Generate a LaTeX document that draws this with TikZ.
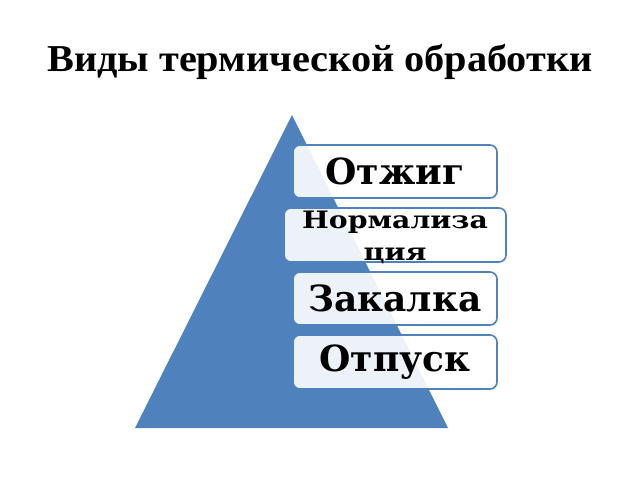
\documentclass[tikz,border=0pt]{standalone}
\usepackage{fontspec}
\setmainfont{DejaVu Serif}
\newfontfamily\titlefont{Liberation Serif}[FakeStretch=1.06]
\newfontfamily\widefont{DejaVu Serif}[FakeStretch=1.18]
\usepackage{xcolor}
\definecolor{pyrblue}{HTML}{4F81BD}

\tikzset{
    stagebox/.style={draw=pyrblue, line width=1.6pt, fill=white, fill opacity=0.9, text opacity=1, rounded corners=7pt, minimum width=204pt, minimum height=53pt, font=\fontsize{36}{40}\selectfont\bfseries}
}

\begin{document}
\begin{tikzpicture}[x=1pt, y=-1pt, node distance=63.5pt]
    \useasboundingbox (0,0) rectangle (640,480);
    \node (title) at (320,62) {\titlefont\fontsize{38}{44}\selectfont\bfseries Виды термической обработки};

    \coordinate (apex) at (292,115);
    \coordinate (baseL) at (135,428);
    \coordinate (baseR) at (448,428);
    \fill[pyrblue] (apex) -- (baseR) -- (baseL) -- cycle;

    \node (otzhig) at (395,171.5) [stagebox] {Отжиг};
    \node (norm) [stagebox, minimum width=222pt, minimum height=54pt, font=\widefont\fontsize{24}{32}\selectfont\bfseries, below of=otzhig] {\raisebox{7pt}[0pt][0pt]{\begin{tabular}[t]{@{}c@{}}Нормализа\\ция\end{tabular}}};
    \node (zakalka) [stagebox, below of=norm] {Закалка};
    \node (otpusk) [stagebox, minimum height=54pt, below of=zakalka] {Отпуск};
\end{tikzpicture}
\end{document}
